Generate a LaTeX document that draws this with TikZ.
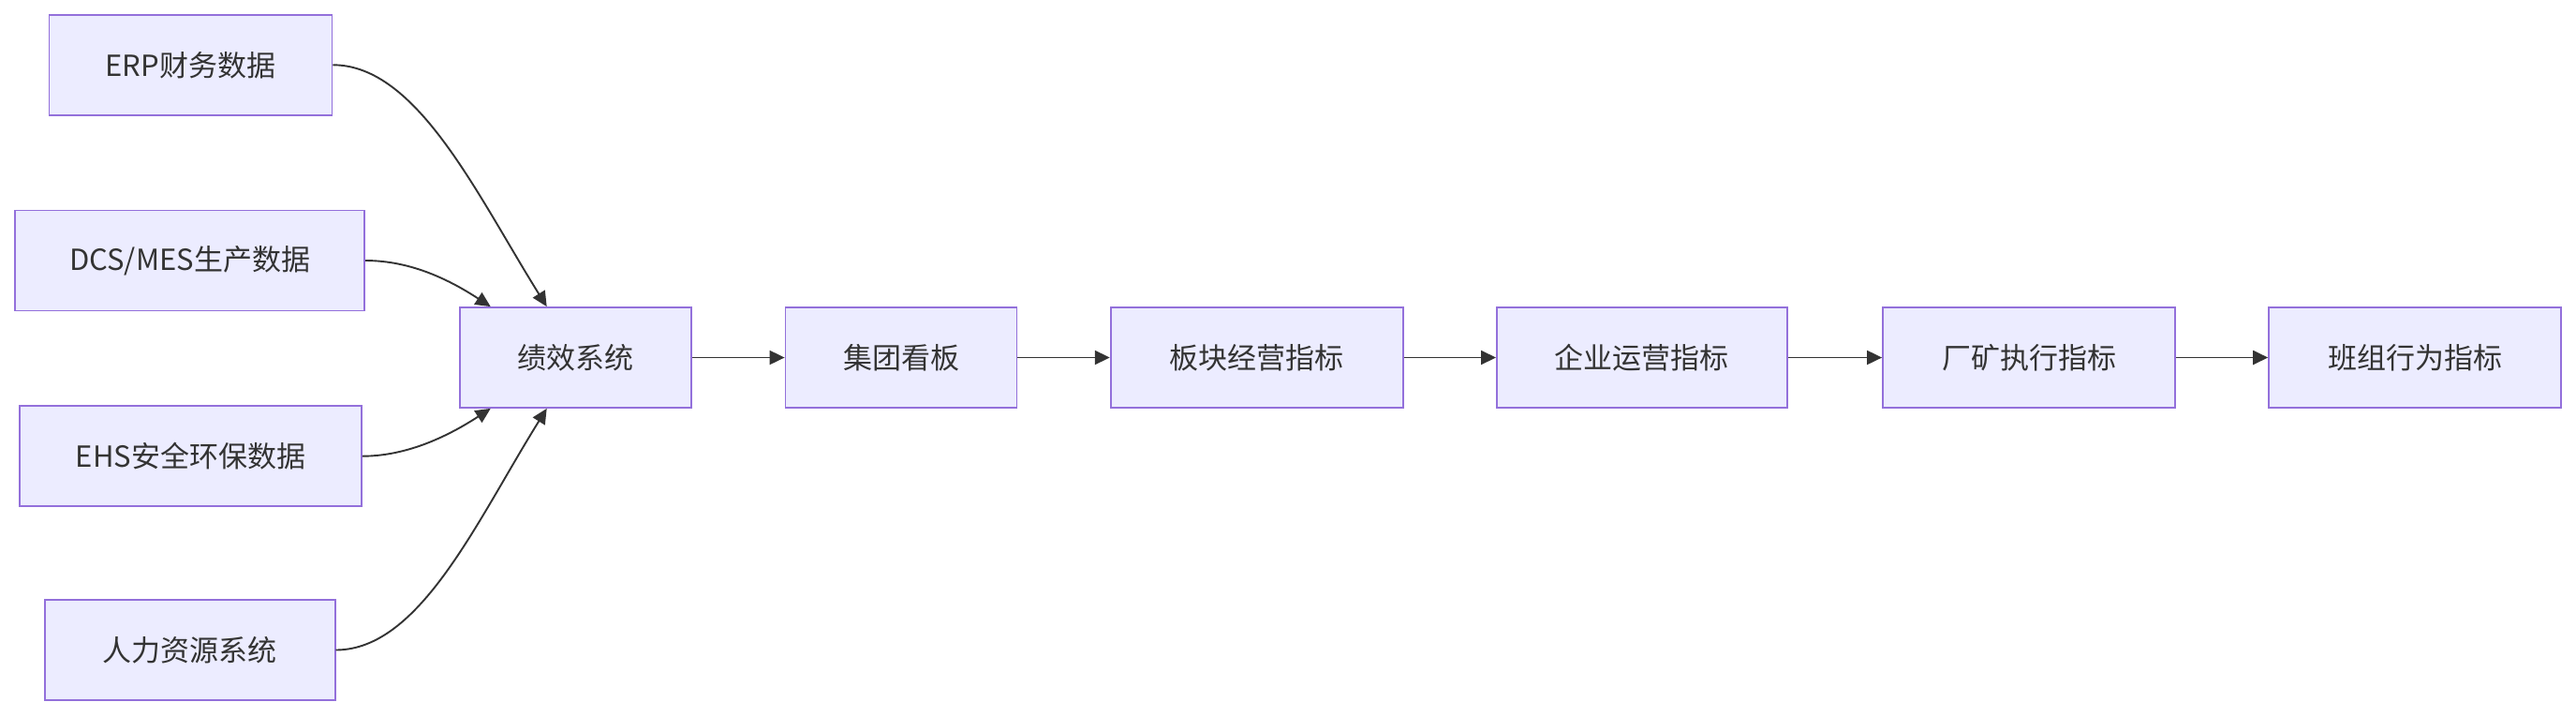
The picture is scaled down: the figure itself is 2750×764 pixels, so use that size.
\documentclass[tikz,border=0pt]{standalone}
\usepackage{fontspec}
\setmainfont{Noto Sans CJK SC}
\usetikzlibrary{arrows.meta}
\definecolor{boxfill}{HTML}{ECECFF}
\definecolor{boxline}{HTML}{9370DB}
\definecolor{inkgray}{HTML}{333333}
\tikzset{
  stagebox/.style={draw=boxline,line width=1.8pt,fill=boxfill,text=inkgray,
    minimum height=107pt,inner sep=0pt,font=\fontsize{31}{36}\selectfont},
  flow/.style={-{Triangle[length=16pt,width=15pt]},line width=1.9pt,draw=inkgray}
}

\begin{document}
\begin{tikzpicture}[x=1pt,y=1pt]
\useasboundingbox (0,0) rectangle (2750,-764);

% data sources
\node[stagebox,minimum width=302pt] (erp) at (203.5,-69.3) {ERP财务数据};
\node[stagebox,minimum width=373pt] (dcs) at (202.6,-278) {DCS/MES生产数据};
\node[stagebox,minimum width=365pt] (ehs) at (203.4,-486.7) {EHS安全环保数据};
\node[stagebox,minimum width=310pt] (hr) at (202.6,-693.5) {人力资源系统};

% indicator chain
\node[stagebox,minimum width=247pt] (jx) at (614.7,-381.5) {绩效系统};
\node[stagebox,minimum width=247pt] (jt) at (962,-381.5) {集团看板};
\node[stagebox,minimum width=312pt] (bk) at (1341.7,-381.5) {板块经营指标};
\node[stagebox,minimum width=310pt] (qy) at (1752.9,-381.5) {企业运营指标};
\node[stagebox,minimum width=312pt] (ck) at (2166,-381.5) {厂矿执行指标};
\node[stagebox,minimum width=312pt] (bz) at (2578.1,-381.5) {班组行为指标};

\draw[flow] (erp.east) .. controls +(90,0) and +(122:140) .. ([xshift=-31pt]jx.north);
\draw[flow] (dcs.east) .. controls +(50,0) and +(147:50) .. ([xshift=-91pt]jx.north);
\draw[flow] (ehs.east) .. controls +(50,0) and +(213:50) .. ([xshift=-91pt]jx.south);
\draw[flow] (hr.east) .. controls +(90,0) and +(238:140) .. ([xshift=-31pt]jx.south);

\draw[flow] (jx) -- (jt);
\draw[flow] (jt) -- (bk);
\draw[flow] (bk) -- (qy);
\draw[flow] (qy) -- (ck);
\draw[flow] (ck) -- (bz);
\end{tikzpicture}
\end{document}
